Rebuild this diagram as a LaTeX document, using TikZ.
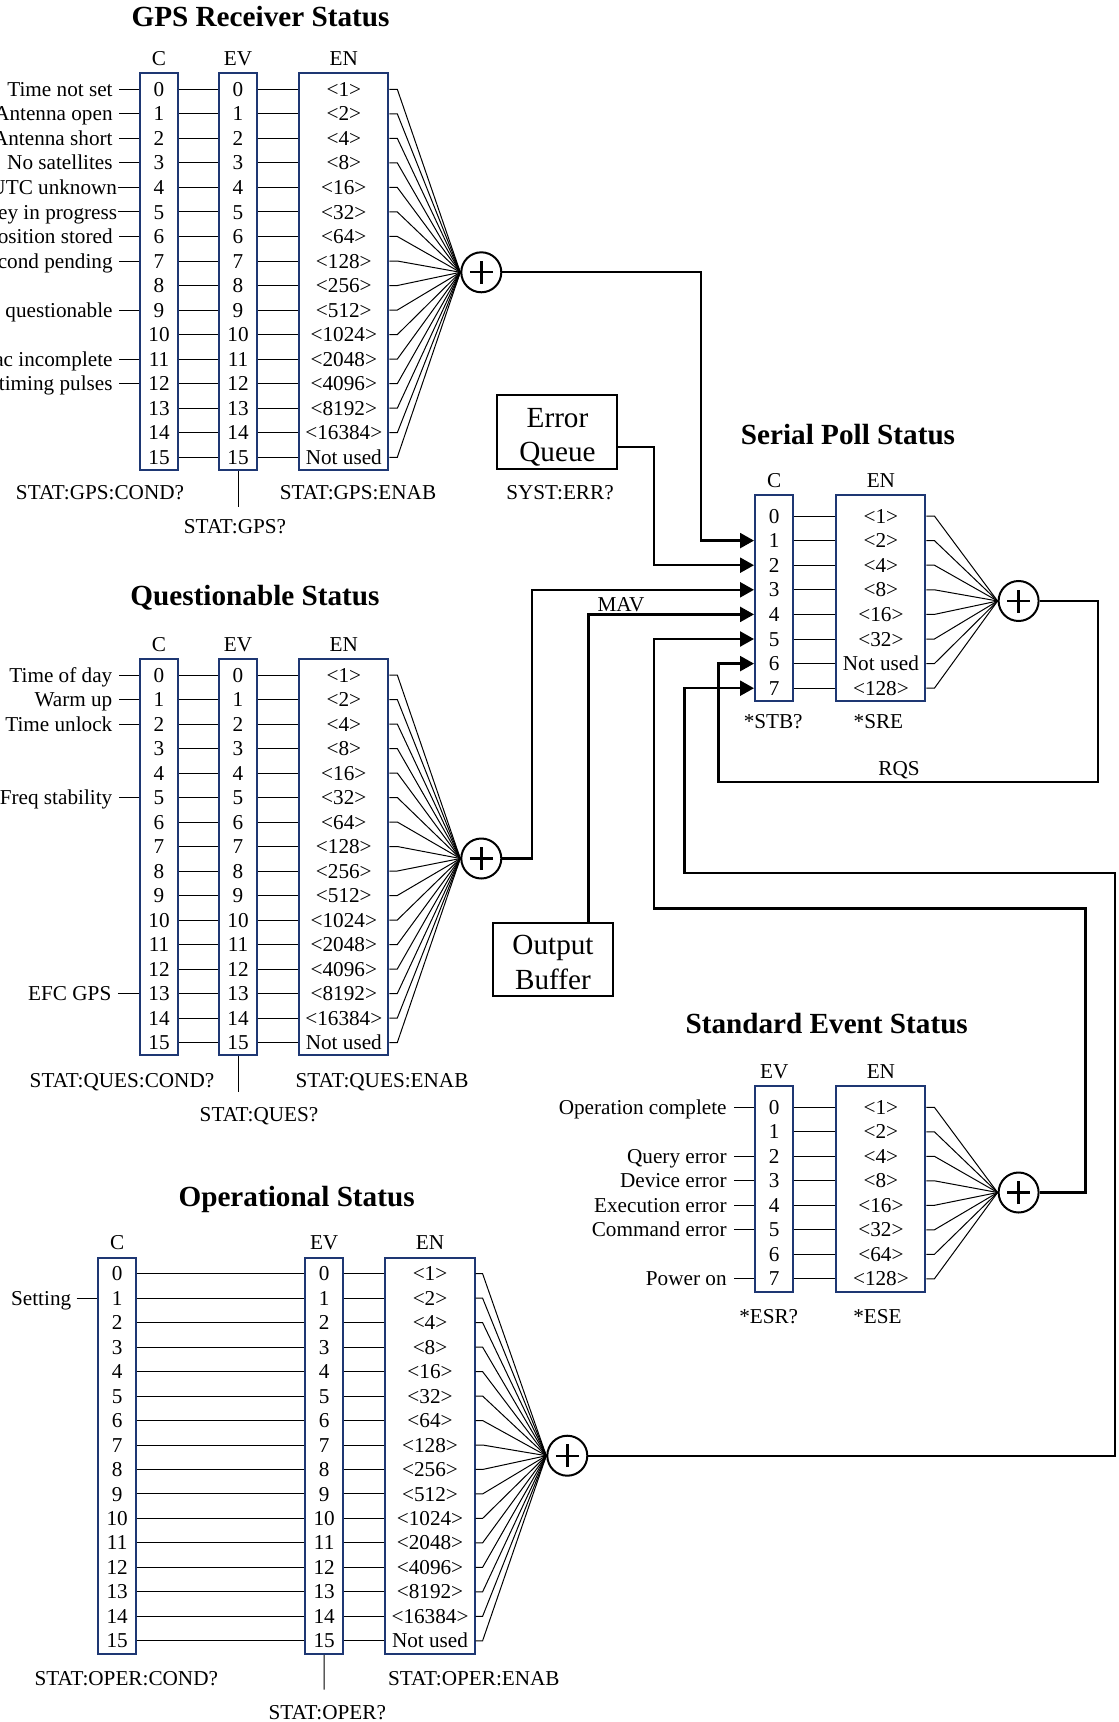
\documentclass[tikz,border=0pt]{standalone}
\usepackage{fontspec}
\setmainfont{Liberation Serif}
\usetikzlibrary{arrows.meta,fit,calc}
\definecolor{regblue}{RGB}{30,55,115}
\newcommand{\enlistA}{0/{<1>},1/{<2>},2/{<4>},3/{<8>},4/{<16>},5/{<32>},6/{<64>},7/{<128>},8/{<256>},9/{<512>},10/{<1024>},11/{<2048>},12/{<4096>},13/{<8192>},14/{<16384>},15/{Not used}}
\begin{document}
\begin{tikzpicture}[x=0.5pt,y=-0.5pt,
  lbl/.style={font=\fontsize{10.6}{12}\selectfont, inner sep=0pt, text height=7.1pt, text depth=0pt},
  ttl/.style={font=\bfseries\fontsize{14.6}{17}\selectfont, inner sep=0pt, text height=9.7pt, text depth=0pt},
  bigtxt/.style={font=\fontsize{14.6}{17}\selectfont, inner sep=0pt, text height=9.6pt, text depth=0pt},
  regbox/.style={draw=regblue, line width=1pt, inner sep=0pt},
  blkbox/.style={draw=black, line width=1pt, inner sep=0pt},
  thinln/.style={line width=0.5pt},
  busarrow/.style={line width=1.2pt, -{Triangle[length=7pt,width=7.5pt]}},
  sumnode/.style={circle, draw, line width=1pt, minimum size=20pt, inner sep=0pt, fill=white,
     path picture={
       \draw[line width=1.2pt] ([xshift=-5.75pt]path picture bounding box.center) -- ([xshift=5.75pt]path picture bounding box.center);
       \draw[line width=1.2pt] ([yshift=-5.75pt]path picture bounding box.center) -- ([yshift=5.75pt]path picture bounding box.center);}}
]
\useasboundingbox[fill=white] (0,0) rectangle (1118,1722);
\clip (0,0) rectangle (1118,1722);

%================ GPS Receiver Status =================
\node[ttl] (gT) at (260.5,17) {GPS Receiver Status};
\foreach \i in {0,...,15} \coordinate (gR\i) at (0,{89.3+24.53*\i});
\node[regbox,fit={(140,73)(178,470)}] (gC) {};
\node[regbox,fit={(219,73)(257,470)}] (gEV) {};
\node[regbox,fit={(299.3,73)(388.3,470)}] (gEN) {};
\node[lbl] (gCh) at ([yshift=6.75pt]gC.north) {C};
\node[lbl] (gEVh) at ([yshift=6.75pt]gEV.north) {EV};
\node[lbl] (gENh) at ([yshift=6.75pt]gEN.north) {EN};
\node[sumnode] (gS) at (481.3,272.3) {};
\foreach \i in {0,...,15} {
  \node[lbl] (gCd\i) at (gC.center |- gR\i) {\i};
  \node[lbl] (gEVd\i) at (gEV.center |- gR\i) {\i};
  \draw[thinln] (gC.east |- gR\i) -- (gEV.west |- gR\i);
  \draw[thinln] (gEV.east |- gR\i) -- (gEN.west |- gR\i);
  \draw[thinln] (gEN.east |- gR\i) -- ++(8,0) -- (gS.west);
}
\foreach \i/\t in \enlistA \node[lbl] (gENd\i) at (gEN.center |- gR\i) {\t};
\foreach \i/\t/\xe/\xs in {0/Time not set/113/119, 1/Antenna open/113/119, 2/Antenna short/113/119,
   3/No satellites/113/119, 4/UTC unknown/117.5/118, 5/Survey in progress/117.5/118,
   6/Position stored/113/119, 7/Leap second pending/113/119, 9/Position questionable/113/119,
   11/Almanac incomplete/113/119, 12/No timing pulses/113/119} {
  \node[lbl,anchor=east] (gL\i) at (\xe,0 |- gR\i) {\t};
  \draw[thinln] (\xs,0 |- gR\i) -- (gC.west |- gR\i);
}
\node[lbl] (gCq) at (100,492) {STAT:GPS:COND?};
\node[lbl] (gENq) at (358,492) {STAT:GPS:ENAB};
\coordinate (gStub) at (238,506.7);
\draw[thinln] (gEV.south) -- (gStub);
\node[lbl] (gEVq) at (235,526) {STAT:GPS?};

%================ Questionable Status =================
\node[ttl] (qT) at (255,596) {Questionable Status};
\foreach \i in {0,...,15} \coordinate (qR\i) at (0,{675+24.5*\i});
\node[regbox,fit={(140,659)(178,1055)}] (qC) {};
\node[regbox,fit={(219,659)(257,1055)}] (qEV) {};
\node[regbox,fit={(299.3,659)(388.3,1055)}] (qEN) {};
\node[lbl] (qCh) at ([yshift=7pt]qC.north) {C};
\node[lbl] (qEVh) at ([yshift=7pt]qEV.north) {EV};
\node[lbl] (qENh) at ([yshift=7pt]qEN.north) {EN};
\node[sumnode] (qS) at (481.3,858.5) {};
\foreach \i in {0,...,15} {
  \node[lbl] (qCd\i) at (qC.center |- qR\i) {\i};
  \node[lbl] (qEVd\i) at (qEV.center |- qR\i) {\i};
  \draw[thinln] (qC.east |- qR\i) -- (qEV.west |- qR\i);
  \draw[thinln] (qEV.east |- qR\i) -- (qEN.west |- qR\i);
  \draw[thinln] (qEN.east |- qR\i) -- ++(8,0) -- (qS.west);
}
\foreach \i/\t in \enlistA \node[lbl] (qENd\i) at (qEN.center |- qR\i) {\t};
\foreach \i/\t/\xe/\xs in {0/Time of day/112.7/119, 1/Warm up/112.7/119, 2/Time unlock/112.7/119,
   5/Freq stability/112.7/119, 13/EFC GPS/111.7/118} {
  \node[lbl,anchor=east] (qL\i) at (\xe,0 |- qR\i) {\t};
  \draw[thinln] (\xs,0 |- qR\i) -- (qC.west |- qR\i);
}
\node[lbl] (qCq) at (122,1080) {STAT:QUES:COND?};
\node[lbl] (qENq) at (382,1080) {STAT:QUES:ENAB};
\coordinate (qStub) at (238,1091.7);
\draw[thinln] (qEV.south) -- (qStub);
\node[lbl] (qEVq) at (259,1114.5) {STAT:QUES?};

%================ Operational Status =================
\node[ttl] (oT) at (296.6,1197) {Operational Status};
\foreach \i in {0,...,15} \coordinate (oR\i) at (0,{1273.7+24.47*\i});
\node[regbox,fit={(98.4,1257.5)(135.9,1654.2)}] (oC) {};
\node[regbox,fit={(305,1257.5)(343.3,1654.2)}] (oEV) {};
\node[regbox,fit={(385.4,1257.5)(474.6,1654.2)}] (oEN) {};
\node[lbl] (oCh) at ([yshift=7pt]oC.north) {C};
\node[lbl] (oEVh) at ([yshift=7pt]oEV.north) {EV};
\node[lbl] (oENh) at ([yshift=7pt]oEN.north) {EN};
\node[sumnode] (oS) at (567.3,1455.7) {};
\foreach \i in {0,...,15} {
  \node[lbl] (oCd\i) at (oC.center |- oR\i) {\i};
  \node[lbl] (oEVd\i) at (oEV.center |- oR\i) {\i};
  \draw[thinln] (oC.east |- oR\i) -- (oEV.west |- oR\i);
  \draw[thinln] (oEV.east |- oR\i) -- (oEN.west |- oR\i);
  \draw[thinln] (oEN.east |- oR\i) -- ++(7,0) -- (oS.west);
}
\foreach \i/\t in \enlistA \node[lbl] (oENd\i) at (oEN.center |- oR\i) {\t};
\node[lbl,anchor=east] (oL1) at (71.6,0 |- oR1) {Setting};
\draw[thinln] (76.5,0 |- oR1) -- (oC.west |- oR1);
\node[lbl] (oCq) at (126.3,1678.5) {STAT:OPER:COND?};
\node[lbl] (oENq) at (473.8,1678.5) {STAT:OPER:ENAB};
\coordinate (oStub) at (324.2,1689.6);
\draw[thinln] (oEV.south) -- (oStub);
\node[lbl] (oEVq) at (327.2,1712) {STAT:OPER?};

%================ Serial Poll Status =================
\node[ttl] (pT) at (848,434.5) {Serial Poll Status};
\foreach \i in {0,...,7} \coordinate (pR\i) at (0,{516+24.6*\i});
\node[regbox,fit={(755,495)(793.4,700.7)}] (pC) {};
\node[regbox,fit={(836.4,495)(925.4,700.7)}] (pEN) {};
\node[lbl] (pCh) at ([yshift=6.75pt]pC.north) {C};
\node[lbl] (pENh) at ([yshift=6.75pt]pEN.north) {EN};
\node[sumnode] (pS) at (1018.6,601) {};
\foreach \i/\t in {0/{<1>},1/{<2>},2/{<4>},3/{<8>},4/{<16>},5/{<32>},6/{Not used},7/{<128>}} {
  \node[lbl] (pCd\i) at (pC.center |- pR\i) {\i};
  \node[lbl] (pENd\i) at (pEN.center |- pR\i) {\t};
  \draw[thinln] (pC.east |- pR\i) -- (pEN.west |- pR\i);
  \draw[thinln] (pEN.east |- pR\i) -- ++(8,0) -- (pS.west);
}
\node[lbl] (pCq) at (773.2,721.7) {*STB?};
\node[lbl] (pENq) at (878.4,721.7) {*SRE};

%================ Standard Event Status =================
\node[ttl] (sT) at (826.7,1023.3) {Standard Event Status};
\foreach \i in {0,...,7} \coordinate (sR\i) at (0,{1107.3+24.5*\i});
\node[regbox,fit={(755,1086)(793.4,1291.7)}] (sEV) {};
\node[regbox,fit={(836.4,1086)(925.4,1291.7)}] (sEN) {};
\node[lbl] (sEVh) at ([yshift=7pt]sEV.north) {EV};
\node[lbl] (sENh) at ([yshift=7pt]sEN.north) {EN};
\node[sumnode] (sS) at (1018.6,1192.5) {};
\foreach \i/\t in {0/{<1>},1/{<2>},2/{<4>},3/{<8>},4/{<16>},5/{<32>},6/{<64>},7/{<128>}} {
  \node[lbl] (sEVd\i) at (sEV.center |- sR\i) {\i};
  \node[lbl] (sENd\i) at (sEN.center |- sR\i) {\t};
  \draw[thinln] (sEV.east |- sR\i) -- (sEN.west |- sR\i);
  \draw[thinln] (sEN.east |- sR\i) -- ++(8,0) -- (sS.west);
}
\foreach \i/\t in {0/Operation complete, 2/Query error, 3/Device error, 4/Execution error,
   5/Command error, 7/Power on} {
  \node[lbl,anchor=east] (sL\i) at (727,0 |- sR\i) {\t};
  \draw[thinln] (734,0 |- sR\i) -- (sEV.west |- sR\i);
}
\node[lbl] (sEVq) at (768.7,1316.7) {*ESR?};
\node[lbl] (sENq) at (877.4,1316.7) {*ESE};

%================ Error Queue / Output Buffer =================
\node[blkbox,fit={(497,395)(617,469)}] (eq) {};
\node[bigtxt] (eqt1) at (557.5,417.5) {Error};
\node[bigtxt] (eqt2) at (557.5,451.7) {Queue};
\node[lbl] (eqq) at (560,492.7) {SYST:ERR?};
\node[blkbox,fit={(493,922.7)(612.8,996)}] (ob) {};
\node[bigtxt] (obt1) at (553,945) {Output};
\node[bigtxt] (obt2) at (553,980) {Buffer};

%================ Bus connections =================
\coordinate (b1) at (701,272.3);
\draw[busarrow] (gS.east) -- (b1) |- (pC.west |- pR1);
\coordinate (b2) at (654,446.7);
\draw[busarrow] ($(eq.east)+(0,14.7)$) -- (b2) |- (pC.west |- pR2);
\coordinate (b3) at (532,858.5);
\draw[busarrow] (qS.east) -- (b3) |- (pC.west |- pR3);
\draw[busarrow] ($(ob.north)+(35.6,0)$) |- (pC.west |- pR4);
\node[lbl] (mav) at (621,604) {MAV};
\coordinate (b5a) at (1085.5,908.3);
\coordinate (b5b) at (654,908.3);
\draw[busarrow] (sS.east) -| (b5a) -- (b5b) |- (pC.west |- pR5);
\coordinate (b6a) at (1098,781.7);
\coordinate (b6b) at (718.3,781.7);
\draw[busarrow] (pS.east) -| (b6a) -- (b6b) |- (pC.west |- pR6);
\node[lbl] (rqs) at (899,768) {RQS};
\coordinate (b7a) at (1115,873);
\coordinate (b7b) at (684.3,873);
\draw[busarrow] (oS.east) -| (b7a) -- (b7b) |- (pC.west |- pR7);
\end{tikzpicture}
\end{document}
